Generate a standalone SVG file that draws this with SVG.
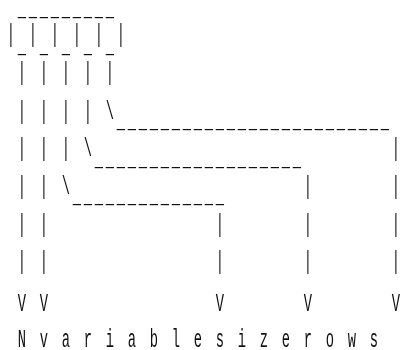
<svg xmlns="http://www.w3.org/2000/svg" width="401" height="350" viewBox="0 0 401 350">
<defs>
<filter id="gray" x="0" y="0" width="401" height="350" filterUnits="userSpaceOnUse"><feOffset dx="0" dy="0"/></filter>
</defs>
<style>
text{font-family:"Liberation Mono",monospace;font-size:26.5px;letter-spacing:5.254px;fill:#111;white-space:pre}
</style>
<rect width="401" height="350" fill="#fff"/>
<g filter="url(#gray)">
<g id="art" transform="scale(0.52,1)" xml:space="preserve">
<g id="underscores">
<text x="13.2" y="15"> _________</text>
<text x="13.2" y="52.4"> _ _ _ _ _</text>
<text x="13.2" y="127.4">          _________________________</text>
<text x="13.2" y="164.8">        ___________________</text>
<text x="13.2" y="202.4">      ______________</text>
</g>
<g id="bars">
<text x="13.2" y="42">| | | | | |</text>
<text x="13.2" y="80"> | | | | |</text>
<text x="13.2" y="119"> | | | | \</text>
<text x="13.2" y="156"> | | | \                           |</text>
<text x="13.2" y="194"> | | \                     |       |</text>
<text x="13.2" y="232"> | |               |       |       |</text>
<text x="13.2" y="269"> | |               |       |       |</text>
</g>
<g id="labels">
<text x="13.2" y="311"> V V               V       V       V</text>
<text x="13.2" y="347.5"> N v a r i a b l e s i z e r o w s</text>
</g>
</g>
</g>
</svg>
